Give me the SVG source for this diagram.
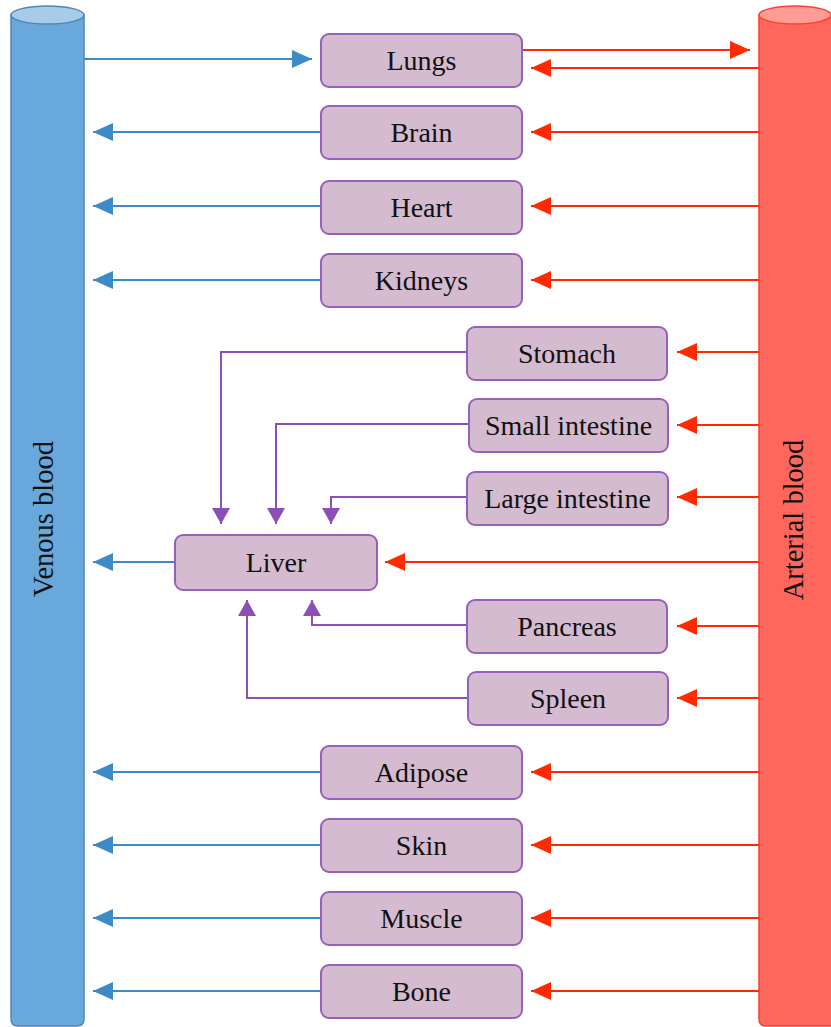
<svg xmlns="http://www.w3.org/2000/svg" width="831" height="1027" viewBox="0 0 831 1027">
<style>
.box{fill:#d5bbd0;stroke:#9660bd;stroke-width:2}
.lbl{font-family:"Liberation Serif","Times New Roman",serif;font-size:28px;fill:#111;text-anchor:middle}
.vlbl{font-family:"Liberation Serif","Times New Roman",serif;font-size:28.5px;fill:#111;text-anchor:middle}
.blue{stroke:#3d8bc6;stroke-width:2;fill:none;marker-end:url(#ab)}
.red{stroke:#ff2a00;stroke-width:2;fill:none;marker-end:url(#ar)}
.pur{stroke:#8a4fb8;stroke-width:2;fill:none;marker-end:url(#ap)}
</style>
<defs>
<marker id="ab" markerUnits="userSpaceOnUse" markerWidth="20" markerHeight="18" refX="20" refY="9" orient="auto"><path d="M0,0 L20,9 L0,18 Z" fill="#3d8bc6"/></marker>
<marker id="ar" markerUnits="userSpaceOnUse" markerWidth="20" markerHeight="18" refX="20" refY="9" orient="auto"><path d="M0,0 L20,9 L0,18 Z" fill="#ff2a00"/></marker>
<marker id="ap" markerUnits="userSpaceOnUse" markerWidth="16" markerHeight="18" refX="16" refY="9" orient="auto"><path d="M0,0 L16,9 L0,18 Z" fill="#8a4fb8"/></marker>
</defs>

<g id="venous">
<path d="M11,15 V1019 Q11,1026 18,1026 H77 Q84,1026 84,1019 V15 Z" fill="#68a8da" stroke="#4f86b8" stroke-width="1.5"/>
<ellipse cx="47.5" cy="15" rx="36.5" ry="9" fill="#a8cbea" stroke="#4f86b8" stroke-width="1.5"/>
<text class="vlbl" x="53" y="519" transform="rotate(-90 53 519)">Venous blood</text>
</g>
<g id="arterial">
<path d="M759,15 V1019 Q759,1026 766,1026 H833 V15 Z" fill="#ff675c" stroke="#ff3f33" stroke-width="1.5"/>
<ellipse cx="795" cy="15" rx="36" ry="9" fill="#ff9c96" stroke="#ff3f33" stroke-width="1.5"/>
<text class="vlbl" x="803" y="520" transform="rotate(-90 803 520)">Arterial blood</text>
</g>

<g id="connectors">
<path class="blue" d="M84,59 H312"/>
<path class="red" d="M522,50 H750"/>
<path class="red" d="M759,68 H531"/>
<path class="blue" d="M321,132 H93"/>
<path class="red" d="M759,132 H531"/>
<path class="blue" d="M321,206 H93"/>
<path class="red" d="M759,206 H531"/>
<path class="blue" d="M321,280 H93"/>
<path class="red" d="M759,280 H531"/>
<path class="red" d="M759,352 H677"/>
<path class="red" d="M759,425 H677"/>
<path class="red" d="M759,497 H677"/>
<path class="blue" d="M175,562 H93"/>
<path class="red" d="M759,562 H385"/>
<path class="red" d="M759,626 H677"/>
<path class="red" d="M759,698 H677"/>
<path class="blue" d="M321,772 H93"/>
<path class="red" d="M759,772 H531"/>
<path class="blue" d="M321,845 H93"/>
<path class="red" d="M759,845 H531"/>
<path class="blue" d="M321,918 H93"/>
<path class="red" d="M759,918 H531"/>
<path class="blue" d="M321,991 H93"/>
<path class="red" d="M759,991 H531"/>
<path class="pur" d="M467,352 H221 V524"/>
<path class="pur" d="M469,424 H276 V524"/>
<path class="pur" d="M467,497 H331 V524"/>
<path class="pur" d="M467,625 H312 V600"/>
<path class="pur" d="M468,698 H247 V600"/>
</g>

<g id="lungs"><rect class="box" x="321" y="34" width="201" height="53" rx="8"/><text class="lbl" x="421.5" y="69.5">Lungs</text></g>
<g id="brain"><rect class="box" x="321" y="106" width="201" height="53" rx="8"/><text class="lbl" x="421.5" y="141.5">Brain</text></g>
<g id="heart"><rect class="box" x="321" y="181" width="201" height="53" rx="8"/><text class="lbl" x="421.5" y="216.5">Heart</text></g>
<g id="kidneys"><rect class="box" x="321" y="254" width="201" height="53" rx="8"/><text class="lbl" x="421.5" y="289.5">Kidneys</text></g>
<g id="stomach"><rect class="box" x="467" y="327" width="200" height="53" rx="8"/><text class="lbl" x="567" y="362.5">Stomach</text></g>
<g id="small-intestine"><rect class="box" x="469" y="399" width="199" height="53" rx="8"/><text class="lbl" x="568.5" y="434.5">Small intestine</text></g>
<g id="large-intestine"><rect class="box" x="467" y="472" width="201" height="53" rx="8"/><text class="lbl" x="567.5" y="507.5">Large intestine</text></g>
<g id="liver"><rect class="box" x="175" y="535" width="202" height="55" rx="8"/><text class="lbl" x="276" y="571.5">Liver</text></g>
<g id="pancreas"><rect class="box" x="467" y="600" width="200" height="53" rx="8"/><text class="lbl" x="567" y="635.5">Pancreas</text></g>
<g id="spleen"><rect class="box" x="468" y="672" width="200" height="53" rx="8"/><text class="lbl" x="568" y="707.5">Spleen</text></g>
<g id="adipose"><rect class="box" x="321" y="746" width="201" height="53" rx="8"/><text class="lbl" x="421.5" y="781.5">Adipose</text></g>
<g id="skin"><rect class="box" x="321" y="819" width="201" height="53" rx="8"/><text class="lbl" x="421.5" y="854.5">Skin</text></g>
<g id="muscle"><rect class="box" x="321" y="892" width="201" height="53" rx="8"/><text class="lbl" x="421.5" y="927.5">Muscle</text></g>
<g id="bone"><rect class="box" x="321" y="965" width="201" height="53" rx="8"/><text class="lbl" x="421.5" y="1000.5">Bone</text></g>
</svg>
